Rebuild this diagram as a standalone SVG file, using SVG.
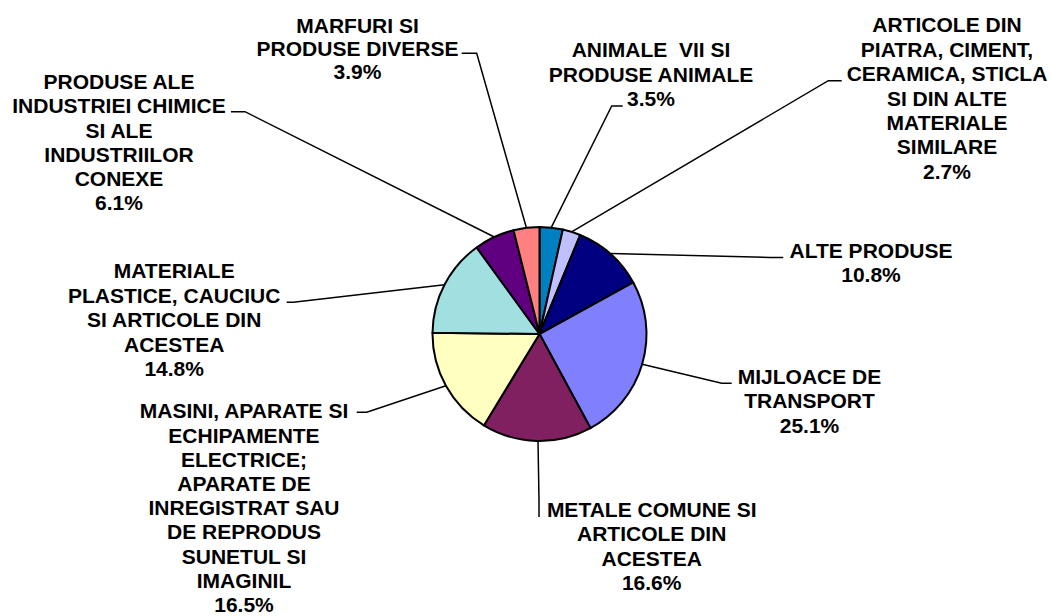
<svg xmlns="http://www.w3.org/2000/svg" width="1050" height="616" viewBox="0 0 1050 616">
<style>
.bg{fill:#ffffff}
.slice{stroke:#000000;stroke-width:2;stroke-linejoin:round}
.lead{fill:none;stroke:#000000;stroke-width:1.5}
.lbl{font-family:"Liberation Sans",Arial,sans-serif;font-weight:bold;font-size:21px;fill:#000000;text-anchor:middle}
</style>
<rect class="bg" x="0" y="0" width="1050" height="616"/>
<g id="pie">
<path id="s-animale" class="slice" fill="#0080C0" d="M539.5,334 L539.5,227 A107,107 0 0 1 562.84,229.58 Z"/>
<path id="s-articole" class="slice" fill="#C0C0FF" d="M539.5,334 L562.84,229.58 A107,107 0 0 1 580.14,235.02 Z"/>
<path id="s-alte" class="slice" fill="#000080" d="M539.5,334 L580.14,235.02 A107,107 0 0 1 633.26,282.45 Z"/>
<path id="s-mijloace" class="slice" fill="#8080FF" d="M539.5,334 L633.26,282.45 A107,107 0 0 1 590.46,428.08 Z"/>
<path id="s-metale" class="slice" fill="#802060" d="M539.5,334 L590.46,428.08 A107,107 0 0 1 483.87,425.40 Z"/>
<path id="s-masini" class="slice" fill="#FFFFC0" d="M539.5,334 L483.87,425.40 A107,107 0 0 1 432.51,332.65 Z"/>
<path id="s-materiale" class="slice" fill="#A0E0E0" d="M539.5,334 L432.51,332.65 A107,107 0 0 1 476.61,247.44 Z"/>
<path id="s-chimice" class="slice" fill="#600080" d="M539.5,334 L476.61,247.44 A107,107 0 0 1 513.54,230.20 Z"/>
<path id="s-marfuri" class="slice" fill="#FF8080" d="M539.5,334 L513.54,230.20 A107,107 0 0 1 539.5,227 Z"/>
</g>
<g id="connectors">
<polyline class="lead" points="461.7,53.3 476.7,53.3 526.4,227.8"/>
<polyline class="lead" points="231,111.7 245,111.7 494.3,237"/>
<polyline class="lead" points="622.7,106 611.7,106 551.2,227.6"/>
<polyline class="lead" points="841.7,80.7 828.3,80.7 571.6,231.9"/>
<polyline class="lead" points="783.3,257.5 770,257.5 611,253.5"/>
<polyline class="lead" points="731.7,383.3 721.7,383.3 642.2,364.2"/>
<polyline class="lead" points="539,517 539,500 538,441"/>
<polyline class="lead" points="286.7,302.3 293.3,302.3 444.5,284.8"/>
<polyline class="lead" points="356.7,412.3 366.7,412.3 445.9,385.8"/>
</g>
<g id="label-marfuri">
<text class="lbl"><tspan x="357.5" y="32.5">MARFURI SI</tspan><tspan x="357.5" y="55.5">PRODUSE DIVERSE</tspan><tspan x="357.5" y="79">3.9%</tspan></text>
</g>
<g id="label-chimice">
<text class="lbl"><tspan x="119" y="89.3">PRODUSE ALE</tspan><tspan x="119" y="113.4">INDUSTRIEI CHIMICE</tspan><tspan x="119" y="137.6">SI ALE</tspan><tspan x="119" y="161.7">INDUSTRIILOR</tspan><tspan x="119" y="186">CONEXE</tspan><tspan x="119" y="210">6.1%</tspan></text>
</g>
<g id="label-animale">
<text class="lbl" xml:space="preserve"><tspan x="651" y="57.3">ANIMALE  VII SI</tspan><tspan x="651" y="81.7">PRODUSE ANIMALE</tspan><tspan x="651" y="106">3.5%</tspan></text>
</g>
<g id="label-articole">
<text class="lbl"><tspan x="947" y="32.3">ARTICOLE DIN</tspan><tspan x="947" y="56.7">PIATRA, CIMENT,</tspan><tspan x="947" y="81">CERAMICA, STICLA</tspan><tspan x="947" y="105.5">SI DIN ALTE</tspan><tspan x="947" y="130">MATERIALE</tspan><tspan x="947" y="154.3">SIMILARE</tspan><tspan x="947" y="178.7">2.7%</tspan></text>
</g>
<g id="label-alte">
<text class="lbl"><tspan x="871" y="258.3">ALTE PRODUSE</tspan><tspan x="871" y="281.7">10.8%</tspan></text>
</g>
<g id="label-mijloace">
<text class="lbl"><tspan x="809.5" y="384.3">MIJLOACE DE</tspan><tspan x="809.5" y="408.3">TRANSPORT</tspan><tspan x="809.5" y="432.7">25.1%</tspan></text>
</g>
<g id="label-metale">
<text class="lbl"><tspan x="651.7" y="516.7">METALE COMUNE SI</tspan><tspan x="651.7" y="541.3">ARTICOLE DIN</tspan><tspan x="651.7" y="565.7">ACESTEA</tspan><tspan x="651.7" y="590">16.6%</tspan></text>
</g>
<g id="label-materiale">
<text class="lbl"><tspan x="174.2" y="278.3">MATERIALE</tspan><tspan x="174.2" y="302.7">PLASTICE, CAUCIUC</tspan><tspan x="174.2" y="327.3">SI ARTICOLE DIN</tspan><tspan x="174.2" y="351.7">ACESTEA</tspan><tspan x="174.2" y="376.3">14.8%</tspan></text>
</g>
<g id="label-masini">
<text class="lbl"><tspan x="244" y="418.3">MASINI, APARATE SI</tspan><tspan x="244" y="442.6">ECHIPAMENTE</tspan><tspan x="244" y="466.8">ELECTRICE;</tspan><tspan x="244" y="491">APARATE DE</tspan><tspan x="244" y="515.2">INREGISTRAT SAU</tspan><tspan x="244" y="539.4">DE REPRODUS</tspan><tspan x="244" y="563.7">SUNETUL SI</tspan><tspan x="244" y="588">IMAGINIL</tspan><tspan x="244" y="612.3">16.5%</tspan></text>
</g>
</svg>
